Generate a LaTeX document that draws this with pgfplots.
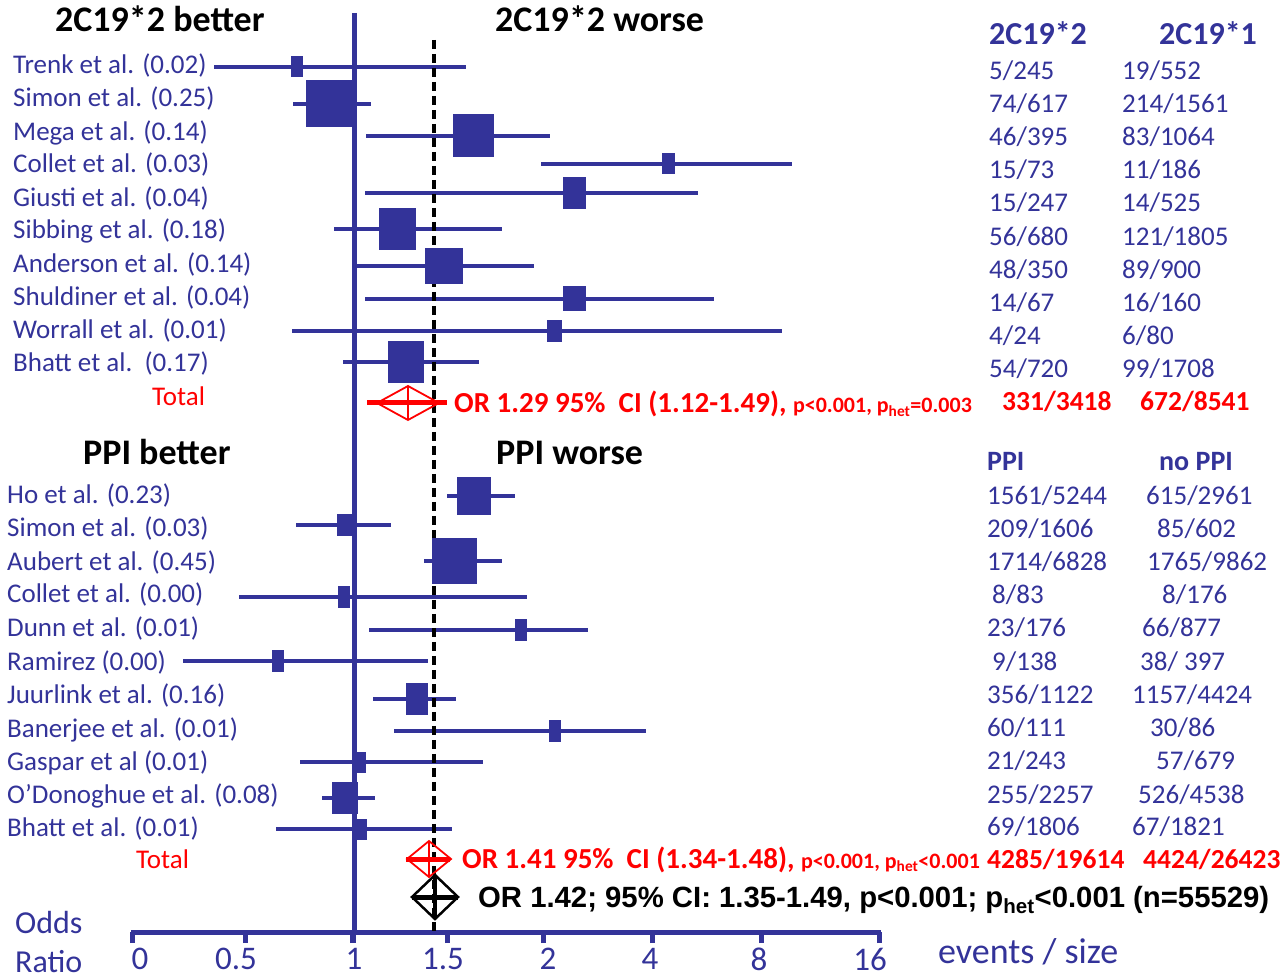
\documentclass[border=0pt]{standalone}
\usepackage{fontspec}
\setmainfont{Carlito}
\newfontfamily\arialfont{Liberation Sans}
\usepackage{pgfplots}
\pgfplotsset{compat=1.18}
\usepackage{pgfplotstable}
\definecolor{fpblue}{RGB}{51,51,153}
\newcommand\fs[1]{\fontsize{#1bp}{#1bp}\selectfont}

% study rows: y (pixel row), CI low/high, point estimate, box width/height (all in picture units)
\pgfplotstableread{
y   lo   hi   cx   w   h
67  214  466  297  12  21
104 293  371  331  50  47
136 366  550  473  41  43
164 541  792  668  13  21
193 365  698  574  23  32
229 334  502  397  37  42
266 355  534  444  38  36
299 365  714  574  23  25
331 292  782  554  15  22
362 343  479  406  36  42
}\genotype

\pgfplotstableread{
y   lo   hi   cx   w   h
496 447  515  474  34  38
525 296  391  346  17  22
561 424  502  454  45  46
597 239  527  344  12  22
630 369  588  521  12  21
661 183  428  278  12  22
699 373  456  417  22  32
731 394  646  555  12  22
762 300  483  359  13  21
798 322  375  345  25  32
829 276  452  360  14  21
}\ppitab

\pgfdeclareplotmark{fbox}{\pgfpathrectangle{\pgfpoint{-0.5*\bw bp}{-0.5*\bh bp}}{\pgfpoint{\bw bp}{\bh bp}}\pgfusepathqfill}

\begin{document}
\begin{tikzpicture}[
  lab/.style={anchor=base west, inner sep=0pt, font=\fs{27}, text=fpblue},
  head/.style={anchor=base west, inner sep=0pt, font=\fs{36}\bfseries, text=black},
  tot/.style={anchor=base west, inner sep=0pt, font=\fs{27.5}\bfseries, text=red},
]
\begin{axis}[
  scale only axis, width=750bp, height=932bp,
  xmin=131, xmax=881, ymin=-932, ymax=0,
  enlargelimits=false, clip=false,
  axis x line=bottom, axis y line=none,
  x axis line style={fpblue, line width=5bp, -},
  xtick={133,246,353,447,543,652,761,879},
  xticklabels={\kern14bp 0, 0.5\kern20bp, \kern2bp 1, 1.5\kern8bp, \kern10bp 2, 4\kern4bp, 8\kern4bp, 16\kern18bp},
  tick align=outside, major tick length=11bp,
  tick style={fpblue, line width=5bp},
  xticklabel style={font=\fs{33}, text=fpblue, inner sep=0pt, text depth=0pt, anchor=north, yshift=-5bp},
  ytick=\empty,
]
% confidence intervals and study boxes
\addplot[only marks, mark=fbox, fpblue,
  visualization depends on={\thisrow{w} \as \bw},
  visualization depends on={\thisrow{h} \as \bh},
  error bars/.cd, x dir=both, x explicit, error mark=none,
  error bar style={line width=4.5bp, fpblue}]
  table[x=cx, y expr=-\thisrow{y}, x error minus expr=\thisrow{cx}-\thisrow{lo}, x error plus expr=\thisrow{hi}-\thisrow{cx}] {\genotype};
\addplot[only marks, mark=fbox, fpblue,
  visualization depends on={\thisrow{w} \as \bw},
  visualization depends on={\thisrow{h} \as \bh},
  error bars/.cd, x dir=both, x explicit, error mark=none,
  error bar style={line width=4.5bp, fpblue}]
  table[x=cx, y expr=-\thisrow{y}, x error minus expr=\thisrow{cx}-\thisrow{lo}, x error plus expr=\thisrow{hi}-\thisrow{cx}] {\ppitab};
% reference lines
\addplot[fpblue, line width=5bp] coordinates {(354,-13) (354,-932)};
\addplot[black, line width=3.2bp, dash pattern=on 9bp off 5bp] coordinates {(434,-40) (434,-932)};
% pooled estimate, 2C19*2
\addplot[red, line width=5bp] coordinates {(367,-403) (447,-403)};
\addplot[red, line width=1.8bp] coordinates {(377,-403) (408,-386) (439,-403) (408,-420)} --cycle;
\addplot[red, line width=1.8bp] coordinates {(408,-386) (408,-420)};
% pooled estimate, PPI
\addplot[red, line width=5bp] coordinates {(406,-859) (450,-859)};
\addplot[red, line width=1.8bp] coordinates {(407,-859) (429,-841) (451,-859) (429,-877)} --cycle;
\addplot[red, line width=1.8bp] coordinates {(429,-841) (429,-877)};
% overall
\addplot[black, line width=5bp] coordinates {(412,-897) (458,-897)};
\addplot[black, line width=2.5bp] coordinates {(412,-897) (435,-875) (458,-897) (435,-919)} --cycle;
\addplot[black, line width=4bp] coordinates {(435,-875) (435,-919)};

% headings
\node[head] at (axis cs:55,-32) {2C19*2 better};
\node[head] at (axis cs:495,-32) {2C19*2 worse};
\node[head] at (axis cs:83,-465) {PPI better};
\node[head] at (axis cs:496,-465) {PPI worse};

% study labels
\node[lab] at (axis cs:13,-74) {Trenk et al. (0.02)};
\node[lab] at (axis cs:13,-107) {Simon et al. (0.25)};
\node[lab] at (axis cs:13,-141) {Mega et al. (0.14)};
\node[lab] at (axis cs:13,-173) {Collet et al. (0.03)};
\node[lab] at (axis cs:13,-207) {Giusti et al. (0.04)};
\node[lab] at (axis cs:13,-239) {Sibbing et al. (0.18)};
\node[lab] at (axis cs:13,-273) {Anderson et al. (0.14)};
\node[lab] at (axis cs:13,-306) {Shuldiner et al. (0.04)};
\node[lab] at (axis cs:13,-339) {Worrall et al. (0.01)};
\node[lab] at (axis cs:13,-372) {Bhatt et al.\ \ (0.17)};
\node[lab, text=red] at (axis cs:152,-406) {Total};

\node[lab] at (axis cs:7,-504) {Ho et al. (0.23)};
\node[lab] at (axis cs:7,-537) {Simon et al. (0.03)};
\node[lab] at (axis cs:7,-571) {Aubert et al. (0.45)};
\node[lab] at (axis cs:7,-603) {Collet et al. (0.00)};
\node[lab] at (axis cs:7,-637) {Dunn et al. (0.01)};
\node[lab] at (axis cs:7,-670) {Ramirez (0.00)};
\node[lab] at (axis cs:7,-703) {Juurlink et al. (0.16)};
\node[lab] at (axis cs:7,-737) {Banerjee et al. (0.01)};
\node[lab] at (axis cs:7,-770) {Gaspar et al (0.01)};
\node[lab] at (axis cs:7,-803) {O’Donoghue et al. (0.08)};
\node[lab] at (axis cs:7,-836) {Bhatt et al. (0.01)};
\node[lab, text=red] at (axis cs:136,-868) {Total};

% event columns, 2C19
\node[lab, font=\fs{32}\bfseries] at (axis cs:989,-45) {2C19*2};
\node[lab, font=\fs{32}\bfseries] at (axis cs:1159,-45) {2C19*1};
\node[lab] at (axis cs:989,-80) {5/245};   \node[lab] at (axis cs:1122,-80) {19/552};
\node[lab] at (axis cs:989,-113) {74/617}; \node[lab] at (axis cs:1122,-113) {214/1561};
\node[lab] at (axis cs:989,-146) {46/395}; \node[lab] at (axis cs:1122,-146) {83/1064};
\node[lab] at (axis cs:989,-179) {15/73};  \node[lab] at (axis cs:1122,-179) {11/186};
\node[lab] at (axis cs:989,-212) {15/247}; \node[lab] at (axis cs:1122,-212) {14/525};
\node[lab] at (axis cs:989,-246) {56/680}; \node[lab] at (axis cs:1122,-246) {121/1805};
\node[lab] at (axis cs:989,-279) {48/350}; \node[lab] at (axis cs:1122,-279) {89/900};
\node[lab] at (axis cs:989,-312) {14/67};  \node[lab] at (axis cs:1122,-312) {16/160};
\node[lab] at (axis cs:989,-345) {4/24};   \node[lab] at (axis cs:1122,-345) {6/80};
\node[lab] at (axis cs:989,-378) {54/720}; \node[lab] at (axis cs:1122,-378) {99/1708};
\node[tot] at (axis cs:1002,-411) {331/3418};
\node[tot] at (axis cs:1140,-411) {672/8541};

% event columns, PPI
\node[lab, font=\fs{28}\bfseries] at (axis cs:987,-471) {PPI};
\node[lab, font=\fs{28}\bfseries] at (axis cs:1159,-471) {no PPI};
\node[lab] at (axis cs:987,-505) {1561/5244}; \node[lab] at (axis cs:1146,-505) {615/2961};
\node[lab] at (axis cs:987,-538) {209/1606};  \node[lab] at (axis cs:1157,-538) {85/602};
\node[lab] at (axis cs:987,-571) {1714/6828}; \node[lab] at (axis cs:1147,-571) {1765/9862};
\node[lab] at (axis cs:992,-604) {8/83};      \node[lab] at (axis cs:1162,-604) {8/176};
\node[lab] at (axis cs:987,-637) {23/176};    \node[lab] at (axis cs:1142,-637) {66/877};
\node[lab] at (axis cs:992,-670) {9/138};     \node[lab] at (axis cs:1140,-670) {38/ 397};
\node[lab] at (axis cs:987,-703) {356/1122};  \node[lab] at (axis cs:1132,-703) {1157/4424};
\node[lab] at (axis cs:987,-736) {60/111};    \node[lab] at (axis cs:1150,-736) {30/86};
\node[lab] at (axis cs:987,-769) {21/243};    \node[lab] at (axis cs:1156,-769) {57/679};
\node[lab] at (axis cs:987,-803) {255/2257};  \node[lab] at (axis cs:1138,-803) {526/4538};
\node[lab] at (axis cs:987,-835) {69/1806};   \node[lab] at (axis cs:1132,-835) {67/1821};
\node[tot] at (axis cs:987,-868) {4285/19614};
\node[tot] at (axis cs:1143,-868) {4424/26423};

% pooled statistics
\node[anchor=base west, inner sep=0pt, text=red] at (axis cs:454,-413)
  {\fs{29}\bfseries OR 1.29 95\%\ \ CI (1.12-1.49), {\fs{22}p<0.001, p\textsubscript{het}=0.003}};
\node[anchor=base west, inner sep=0pt, text=red] at (axis cs:462,-868)
  {\fs{29}\bfseries OR 1.41 95\%\ \ CI (1.34-1.48), {\fs{22}p<0.001, p\textsubscript{het}<0.001}};
\node[anchor=base west, inner sep=0pt, text=black] at (axis cs:478,-907)
  {\arialfont\fs{29.3}\bfseries OR 1.42; 95\% CI: 1.35-1.49, p<0.001; p\textsubscript{het}<0.001 (n=55529)};

% axis captions
\node[lab, font=\fs{32}] at (axis cs:15,-933) {Odds};
\node[lab, font=\fs{32}] at (axis cs:15,-972) {Ratio};
\node[lab, font=\fs{36}] at (axis cs:938,-963) {events / size};

\coordinate (BL) at (axis cs:0,-978);
\coordinate (TR) at (axis cs:1282,0);
\end{axis}
\pgfresetboundingbox
\useasboundingbox (BL) rectangle (TR);
\end{tikzpicture}
\end{document}
